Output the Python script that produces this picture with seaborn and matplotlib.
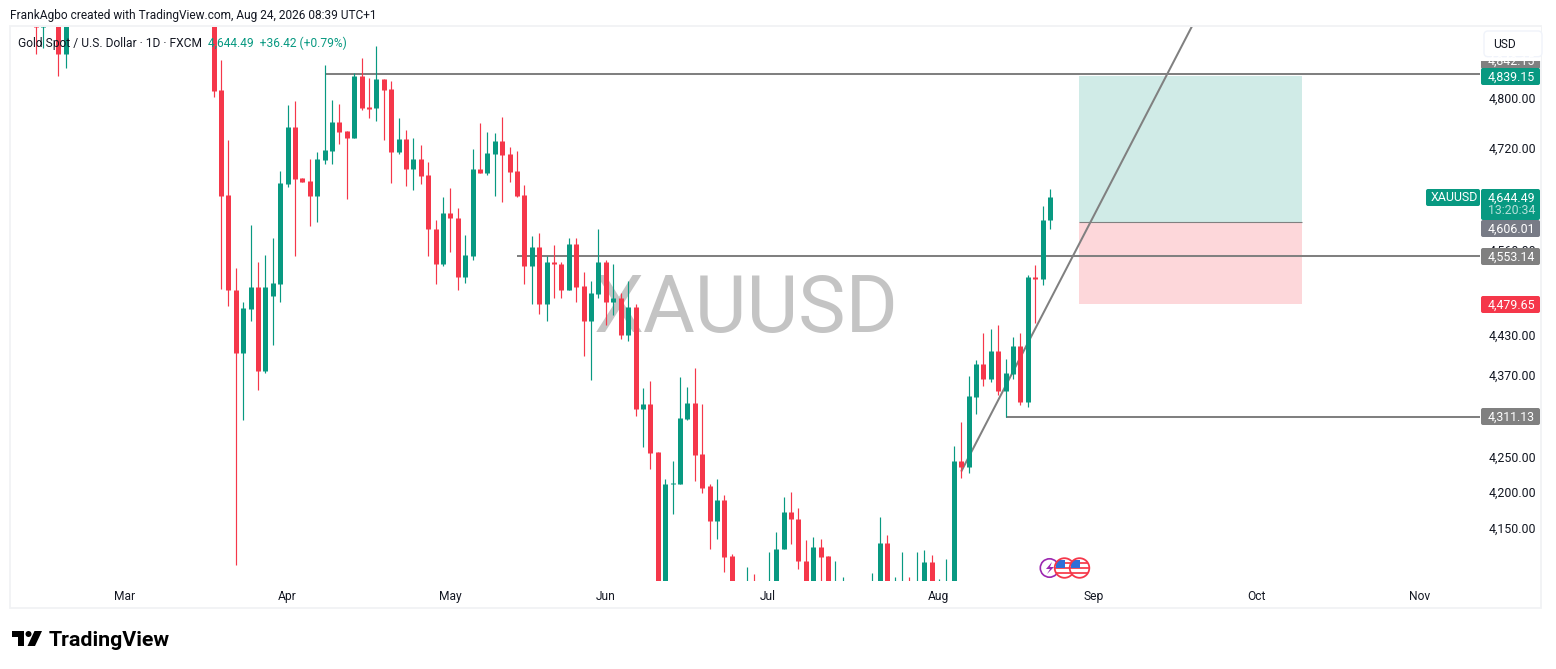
"""Gold spot daily candles with drawings, in the TradingView look."""

import matplotlib

matplotlib.use("Agg")

import matplotlib.pyplot as plt
import pandas as pd
import seaborn as sns
from matplotlib.patches import Circle, FancyBboxPatch, Polygon, Rectangle
from matplotlib.ticker import NullLocator
from matplotlib.transforms import ScaledTranslation

UP = "#089981"
DOWN = "#f5374a"
GREY = "#808080"
INK = "#131722"

# trading sessions counted from 12 Feb 2026; the others sit outside the pane
sessions = [0, 1, 3, 4] + list(range(24, 95)) + [96, 97] + list(range(99, 110)) + list(range(113, 138))

opens = [
    4960, 4920, 4960, 4875,
    4960, 4816, 4648, 4500, 4406, 4471, 4505, 4379, 4492, 4509,
    4665, 4756, 4675, 4670, 4647, 4704, 4718, 4764, 4750, 4739,
    4839, 4788, 4787, 4834, 4818, 4716, 4737, 4689, 4705, 4680,
    4595, 4541, 4620, 4612, 4520, 4553, 4689, 4683, 4713, 4734,
    4713, 4686, 4648, 4538, 4566, 4480, 4543, 4541, 4501, 4572,
    4506, 4453, 4494, 4543, 4482, 4489, 4432, 4475, 4323, 4330,
    4260, 4060, 4214, 4214, 4308, 4332, 4257, 4211, 4161, 4191, 4112,
    4040, 4060,
    4045, 4050, 4122, 4175, 4165, 4106, 4050, 4125, 4112, 4050, 4050,
    4050, 4050, 4131, 4050, 4050, 4070, 4050, 4050, 4104, 4050, 4050, 4060, 4247,
    4238, 4341, 4389, 4367, 4408, 4349, 4374, 4416, 4333, 4521, 4517, 4608.07,
]
highs = [
    5000, 4990, 5000, 5000,
    4990, 4865, 4736, 4535, 4483, 4601, 4544, 4555, 4580, 4686,
    4792, 4798, 4675, 4705, 4716, 4857, 4800, 4793, 4750, 4844,
    4869, 4836, 4888, 4834, 4831, 4771, 4752, 4739, 4728, 4700,
    4609, 4645, 4659, 4628, 4586, 4721, 4763, 4748, 4747, 4772,
    4724, 4718, 4664, 4583, 4589, 4552, 4570, 4544, 4580, 4580,
    4528, 4515, 4594, 4546, 4541, 4496, 4515, 4480, 4354, 4364,
    4260, 4221, 4247, 4370, 4355, 4383, 4330, 4214, 4222, 4199, 4116,
    4097, 4087,
    4118, 4146, 4196, 4203, 4180, 4135, 4139, 4136, 4112, 4105, 4083,
    4089, 4167, 4142, 4083, 4118, 4083, 4118, 4121, 4114, 4080, 4108, 4269, 4304,
    4372, 4395, 4435, 4441, 4448, 4396, 4429, 4436, 4523, 4539, 4631, 4658,
]
lows = [
    4875, 4886, 4839, 4852,
    4805, 4502, 4477, 4100, 4306, 4454, 4351, 4376, 4417, 4482,
    4661, 4552, 4669, 4600, 4606, 4697, 4697, 4729, 4642, 4739,
    4784, 4771, 4766, 4736, 4667, 4713, 4662, 4656, 4665, 4553,
    4509, 4538, 4559, 4500, 4512, 4546, 4683, 4680, 4647, 4637,
    4669, 4644, 4509, 4479, 4464, 4453, 4488, 4489, 4501, 4482,
    4401, 4366, 4488, 4447, 4462, 4426, 4423, 4313, 4267, 4236,
    4040, 4040, 4171, 4214, 4306, 4219, 4202, 4123, 4137, 4091, 4040,
    4030, 4030,
    4030, 4040, 4122, 4129, 4094, 4040, 4040, 4050, 4040, 4040, 4040,
    4040, 4040, 4040, 4040, 4040, 4040, 4040, 4040, 4040, 4040, 4040, 4040, 4223,
    4230, 4315, 4357, 4362, 4343, 4311, 4367, 4329, 4325, 4450, 4508, 4594,
]
closes = [
    4920, 4960, 4875, 4960,
    4815, 4647, 4500, 4406, 4473, 4505, 4379, 4505, 4511, 4667,
    4756, 4673, 4669, 4647, 4705, 4720, 4764, 4748, 4739, 4839,
    4787, 4786, 4834, 4816, 4716, 4737, 4689, 4705, 4678, 4594,
    4541, 4620, 4611, 4520, 4555, 4689, 4683, 4715, 4734, 4712,
    4684, 4647, 4538, 4566, 4480, 4543, 4541, 4501, 4572, 4505,
    4453, 4496, 4543, 4482, 4489, 4432, 4475, 4323, 4330, 4259,
    4060, 4214, 4216, 4310, 4332, 4256, 4209, 4161, 4191, 4111, 4050,
    4060, 4040,
    4070, 4123, 4175, 4164, 4105, 4050, 4125, 4111, 4050, 4070, 4070,
    4070, 4131, 4050, 4070, 4070, 4050, 4070, 4104, 4050, 4070, 4070, 4247, 4238,
    4342, 4389, 4367, 4408, 4349, 4376, 4416, 4333, 4521, 4517, 4608.07, 4644.49,
]

month_sessions = [12, 34, 56, 77, 99, 122, 143, 165, 187]
month_labels = ["Mar", "Apr", "May", "Jun", "Jul", "Aug", "Sep", "Oct", "Nov"]
price_ticks = [4150, 4200, 4250, 4370, 4430, 4560, 4720, 4800]

level_prices = [4842.15, 4553.14, 4311.13]
level_starts = [39, 65, 131]
trend_sessions = [125, 157]
trend_prices = [4232, 4941]
position_sessions = [140.9, 171]
target_price, entry_price, stop_price = 4839.15, 4606.01, 4479.65

sns.set_theme(style="white", rc={"lines.solid_capstyle": "butt", "axes.edgecolor": "white"})
plt.rcParams["font.family"] = ["Roboto", "DejaVu Sans"]

W, H = 1556, 669
fig = plt.figure(figsize=(W / 100, H / 100), dpi=100, facecolor="white")
ax = fig.add_axes([11 / W, (H - 581) / H, 1469 / W, 554 / H])

candles = pd.DataFrame({"session": sessions, "open": opens, "high": highs, "low": lows, "close": closes})
candles["side"] = ["up" if c >= o else "down" for o, c in zip(opens, closes)]
side_colors = {"up": UP, "down": DOWN}

wicks = candles.melt(id_vars=["session", "side"], value_vars=["high", "low"], value_name="price")
bodies = candles.melt(id_vars=["session", "side"], value_vars=["open", "close"], value_name="price")
for frame, width in ((wicks, 0.85), (bodies, 3.6)):
    sns.lineplot(
        data=frame, x="session", y="price", hue="side", units="session", estimator=None,
        palette=side_colors, legend=False, sort=False, lw=width, ax=ax, zorder=3,
    )

ax.set_yscale("log")
ax.set_xlim(-3.37, 195.09)
ax.set_ylim(4077.9, 4920.2)
right_edge = ax.get_xlim()[1]

ax.fill_between(position_sessions, entry_price, target_price, color=UP, alpha=0.19, lw=0, zorder=1)
ax.fill_between(position_sessions, stop_price, entry_price, color=DOWN, alpha=0.2, lw=0, zorder=1)
ax.plot(position_sessions, [entry_price, entry_price], color=GREY, lw=0.8, zorder=2)
ax.hlines(level_prices, level_starts, right_edge, color=GREY, lw=1.45, zorder=2)
ax.plot(trend_sessions, trend_prices, color=GREY, lw=1.45, zorder=2)

ax.set_xlabel("")
ax.set_ylabel("")
ax.set_xticks(month_sessions, month_labels)
ax.yaxis.tick_right()
ax.yaxis.set_minor_locator(NullLocator())
ax.set_yticks(price_ticks, [f"{p:,.2f}" for p in price_ticks])
ax.tick_params(axis="x", length=0, pad=6.6, labelsize=8.64, labelcolor=INK)
ax.tick_params(axis="y", length=0, pad=6.2, labelsize=8.9, labelcolor=INK)
sns.despine(ax=ax, left=True, bottom=True)
for tick_label in ax.get_yticklabels():
    tick_label.set_transform(tick_label.get_transform() + ScaledTranslation(0, 0.02, fig.dpi_scale_trans))
for tick_label in ax.get_xticklabels():
    tick_label.set_transform(tick_label.get_transform() + ScaledTranslation(-0.006, 0, fig.dpi_scale_trans))

# everything around the plot is laid out on the screenshot's own pixel grid
chrome = fig.add_axes([0, 0, 1, 1], zorder=5)
chrome.set_xlim(0, W)
chrome.set_ylim(H, 0)
chrome.axis("off")

ax.text(746, 310, "XAUUSD", transform=chrome.transData, fontsize=57.3, color="#c4c4c4",
        ha="center", va="center", zorder=0.5)

chrome.add_patch(Rectangle((10, 26), 1531, 582, fill=False, ec="#f1f2f4", lw=1.3))
chrome.text(10, 15.5, "FrankAgbo created with TradingView.com, Aug 24, 2026 08:39 UTC+1",
            fontsize=8.6, color=INK, va="center")
chrome.text(18, 43, "Gold Spot / U.S. Dollar · 1D · FXCM", fontsize=8.64, color=INK, va="center")
chrome.text(208, 43, "4,644.49  +36.42 (+0.79%)", fontsize=8.64, color=UP, va="center")


def price_tag(top, bottom, label, color, left=1481, right=1540, text_color="white"):
    chrome.add_patch(FancyBboxPatch((left, top), right - left, bottom - top, fc=color, ec="none",
                                    boxstyle="round,pad=0,rounding_size=2"))
    if label:
        chrome.text((left + right) / 2 + 1, (top + bottom) / 2 + 0.3, label, color=text_color, fontsize=8.9,
                    ha="center", va="center")


price_tag(52, 69, "4,842.15", GREY)
chrome.add_patch(Rectangle((1481, 27), 60, 33.7, fc="white", ec="none"))
chrome.add_patch(FancyBboxPatch((1484, 31), 58, 25.7, fc="white", ec="#f0f3fa", lw=1,
                                boxstyle="round,pad=0,rounding_size=4"))
chrome.text(1493, 44.5, "USD", fontsize=8.64, color=INK, va="center")
price_tag(68, 85, "4,839.15", UP)
price_tag(189, 206, "XAUUSD", UP, left=1426, right=1480)
price_tag(189, 220, "", UP)
chrome.text(1511.5, 197.8, "4,644.49", color="white", fontsize=8.9, ha="center", va="center")
chrome.text(1511.5, 211, "13:20:34", color="#b5e0d9", fontsize=8.9, ha="center", va="center")
price_tag(220, 237, "4,606.01", "#787b86")
price_tag(248, 265, "4,553.14", GREY)
price_tag(296, 313, "4,479.65", DOWN)
price_tag(408, 425, "4,311.13", GREY)

# event markers under the candles
chrome.add_patch(Circle((1049.5, 568), 9.2, fc="white", ec="#9c27b0", lw=1.2))
chrome.add_patch(Polygon([(1052, 562), (1046, 569), (1050, 569), (1047, 574), (1054, 567), (1050, 567)],
                         fc="#9c27b0", ec="none"))
for cx in (1064.5, 1079.5):
    disc = Circle((cx, 568), 9.8, fc="white", ec="none", zorder=3)
    chrome.add_patch(disc)
    for stripe_y in (561.5, 566.5, 571.5):
        stripe = Rectangle((cx - 10, stripe_y), 20, 2.5, fc="#f7525f", ec="none", zorder=3)
        chrome.add_patch(stripe)
        stripe.set_clip_path(disc)
    canton = Rectangle((cx - 8.5, 559.5), 9, 8.5, fc="#2e6fd8", ec="none", zorder=3)
    chrome.add_patch(canton)
    canton.set_clip_path(disc)
    chrome.add_patch(Circle((cx, 568), 9.8, fill=False, ec=DOWN, lw=1.3, zorder=3))

# wordmark
chrome.add_patch(Polygon([(12, 631), (24.3, 631), (24.3, 646), (18.5, 646), (18.5, 637), (12, 637)],
                         fc="black", ec="none"))
chrome.add_patch(Circle((28.5, 634), 3, fc="black", ec="none"))
chrome.add_patch(Polygon([(34.5, 631), (42, 631), (35, 646), (27.5, 646)], fc="black", ec="none"))
chrome.text(48.5, 640.5, "TradingView", fontsize=15.4, fontweight="bold", color="black", va="center")

fig.savefig("out.png", dpi=100)
